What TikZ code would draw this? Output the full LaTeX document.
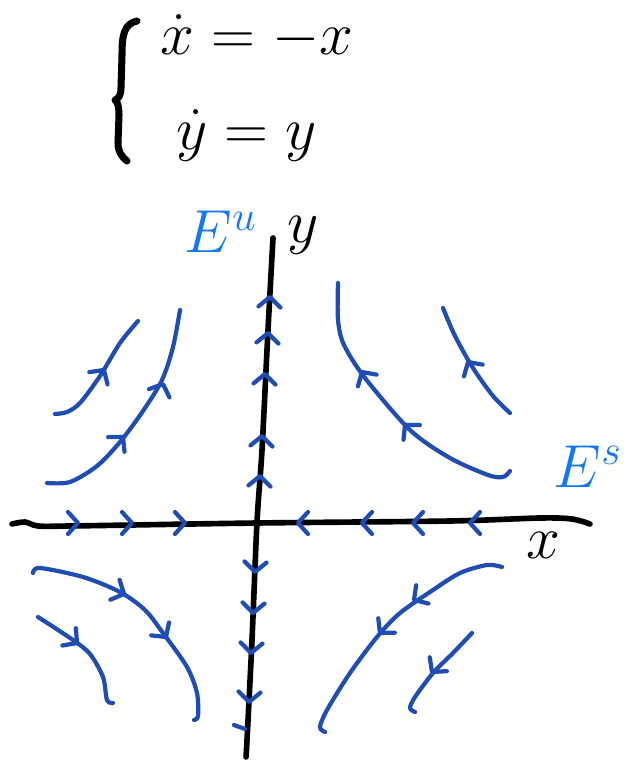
\documentclass[tikz,border=0pt]{standalone}
\usepackage{amsmath}
\usepackage{tikz}
\definecolor{phblue}{HTML}{1F4DB3}
\definecolor{eigblue}{HTML}{1677F5}

\begin{document}
\begin{tikzpicture}[x=0.01cm,y=-0.01cm,
  ax/.style={line width=1.6pt,line cap=round,line join=round},
  traj/.style={draw=phblue,line width=1.2pt,line cap=round,line join=round},
  lbl/.style={font=\LARGE,inner sep=0pt},
  eig/.style={lbl,text=eigblue},
  chev/.pic={\draw[traj] (-10,-11) -- (0,0) -- (-10,11);}]
  \useasboundingbox (0,0) rectangle (626,761);
  % the system
  \draw[ax,line width=2pt] (137,21) .. controls (124,24) and (122,35) .. (122,55) -- (121,88)
    .. controls (121,96) and (118,99) .. (115,100) .. controls (118,102) and (119,108) .. (119,115)
    -- (118,143) .. controls (118,152) and (122,157) .. (127,161);
  \node[lbl,anchor=base west] (eqx) at (160,55) {$\dot{x} = -x$};
  \node[lbl,anchor=base west] (eqy) at (176,150) {$\dot{y} = y$};
  % axes
  \draw[ax] plot[smooth] coordinates {(12,524) (25,522) (38,526) (70,526) (257,523) (450,521) (540,518) (572,519) (590,524)};
  \draw[ax] plot[smooth] coordinates {(273,238) (268,330) (262,450) (257,522) (252,640) (247,740) (246,757)};
  \node[lbl] (ylab) at (303,235) {$y$};
  \node[lbl] (xlab) at (543,545) {$x$};
  \node[eig,anchor=base west] (Eu) at (184,253) {$E^{u}$};
  \node[eig,anchor=base west] (Es) at (553,487) {$E^{s}$};
  % trajectories
  \draw[traj] plot[smooth] coordinates {(55,414) (67,412) (80,403) (100,376) (120,343) (138,321)};
  \draw[traj] plot[smooth] coordinates {(47,483) (70,482) (97,466) (120,442) (143,411) (162,380) (173,347) (180,310)};
  \draw[traj] plot[smooth] coordinates {(338,283) (338,320) (344,345) (365,378) (410,430) (450,458) (488,475) (503,477) (510,471)};
  \draw[traj] plot[smooth] coordinates {(443,308) (455,336) (473,368) (493,396) (510,413)};
  \draw[traj] plot[smooth] coordinates {(33,573) (40,568) (83,577) (120,592) (145,610) (163,633) (187,667) (197,693) (198,716) (194,720)};
  \draw[traj] plot[smooth] coordinates {(38,617) (73,640) (90,654) (103,677) (107,700) (113,703)};
  \draw[traj] plot[smooth] coordinates {(502,567) (487,565) (460,573) (433,590) (400,613) (377,637) (350,673) (327,710) (320,727) (325,732)};
  \draw[traj] plot[smooth] coordinates {(472,633) (453,653) (433,673) (415,697) (410,708) (415,712)};
  % flow directions
  \foreach \px in {78,132,185} \pic at (\px,523) {chev};
  \foreach \px in {298,362,413,470} \pic[rotate=180] at (\px,523) {chev};
  \foreach \px/\py in {270/297,268/333,265/374,262/436,260/476} \pic[rotate=87] at (\px,\py) {chev};
  \foreach \px/\py in {255/572,253/613,251/653,249/702} \pic[rotate=267] at (\px,\py) {chev};
  \draw[traj] (234,725) -- (245,729);
  \foreach \px/\py/\a in {104/370/56,123/437/48,163/384/68,362/372/122,405/425/132,468/362/122,
    124/594/-25,166/637/-54,77/643/-38,414/600/214,380/633/229,432/672/231}
    \pic[rotate=\a] at (\px,\py) {chev};
\end{tikzpicture}
\end{document}
